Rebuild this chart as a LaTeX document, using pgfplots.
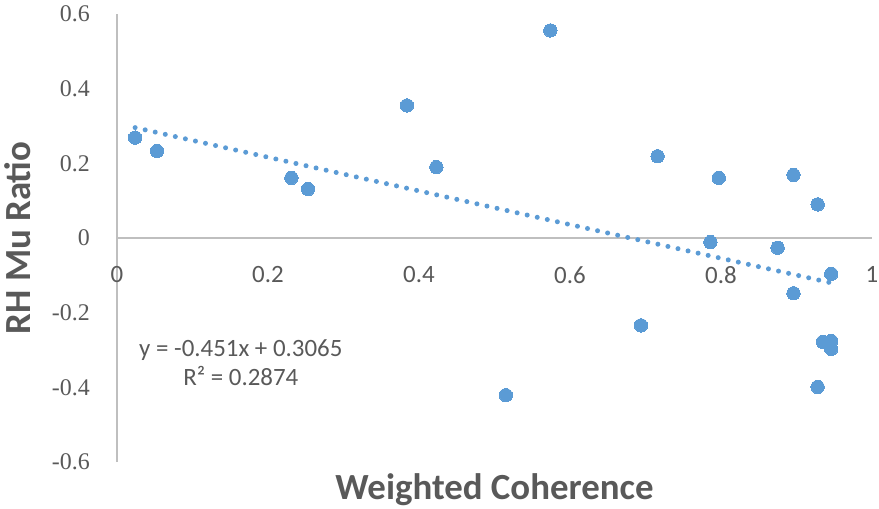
\documentclass[border=0pt]{standalone}
\usepackage{fontspec}
\setmainfont{Carlito}
\newfontfamily\serifnum{Liberation Serif}
\usepackage{pgfplots}
\pgfplotsset{compat=1.18}

\definecolor{pt}{HTML}{5B9BD5}
\definecolor{txt}{HTML}{595959}
\definecolor{axl}{HTML}{BFBFBF}

\begin{document}
\begin{tikzpicture}
\begin{axis}[
    name=ax,
    scale only axis,
    width=755bp, height=448bp,
    xmin=0, xmax=1, ymin=-0.6, ymax=0.6,
    axis lines=middle,
    hide obscured x ticks=false,
    hide obscured y ticks=false,
    axis line style={draw=axl, line width=2bp, -},
    xtick={0,0.2,0.4,0.6,0.8,1},
    ytick={-0.6,-0.4,-0.2,0,0.2,0.4,0.6},
    major tick length=0pt,
    /pgf/number format/assume math mode=true,
    xticklabel style={font=\fontsize{25}{30}\selectfont, text=txt, inner sep=0pt, anchor=north, yshift=-28bp},
    yticklabel style={font=\fontsize{24}{28}\serifnum, text=txt, inner sep=0pt, anchor=east, xshift=-27bp},
    xlabel={Weighted Coherence},
    ylabel={RH Mu Ratio},
    every axis x label/.style={at={(rel axis cs:0.5,0)}, anchor=center, yshift=-28bp,
        font=\bfseries\fontsize{37}{44}\selectfont, text=txt},
    every axis y label/.style={at={(rel axis cs:0,0.5)}, anchor=center, rotate=90, yshift=99bp,
        font=\bfseries\fontsize{37}{44}\selectfont, text=txt},
    clip=false,
]
% trendline (Excel linear fit, over the data's x range)
\addplot[pt, line width=5bp, line cap=round, dash pattern=on 0bp off 10.3bp]
    coordinates {(0.024,0.2957) (0.946,-0.1201)};

\addplot[only marks, mark=*, mark size=6.7bp, mark options={fill=pt, draw=pt, line width=0pt}]
    coordinates {
    (0.024,0.269) (0.053,0.233) (0.231,0.161) (0.253,0.131)
    (0.384,0.355) (0.423,0.190) (0.574,0.556) (0.515,-0.421)
    (0.694,-0.234) (0.716,0.219) (0.786,-0.011) (0.797,0.161)
    (0.875,-0.026) (0.896,0.169) (0.896,-0.148) (0.928,0.090)
    (0.946,-0.096) (0.935,-0.278) (0.946,-0.276) (0.946,-0.297)
    (0.928,-0.399)
    };

\node[align=center, text=txt, font=\fontsize{25}{30}\selectfont]
    at (axis cs:0.164,-0.334) {y = -0.451x + 0.3065\\R² = 0.2874};
\end{axis}
\pgfresetboundingbox
\path ([xshift=-117bp,yshift=-46bp]ax.south west) rectangle ([xshift=7bp,yshift=14bp]ax.north east);
\end{tikzpicture}
\end{document}
